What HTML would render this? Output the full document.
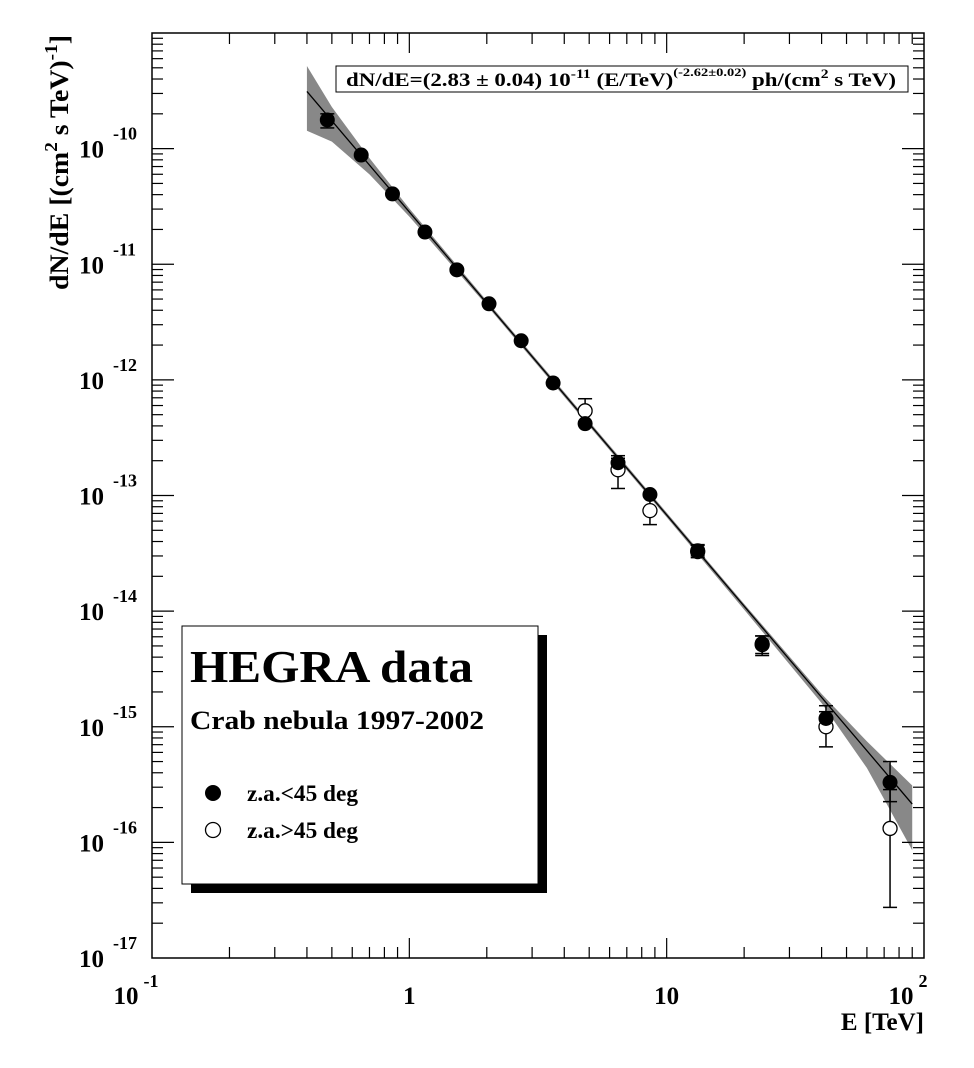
<!DOCTYPE html>
<html><head><meta charset="utf-8"><style>
html,body{margin:0;padding:0;background:#fff;}
svg{display:block;font-family:"Liberation Serif",serif;font-weight:bold;}
</style></head><body>
<svg id="chart" width="974" height="1068" viewBox="0 0 974 1068" xmlns="http://www.w3.org/2000/svg">
<g id="band"></g>
<g id="fit"></g>
<g id="pts"></g>
<g id="axes"></g>
<g>
<rect x="336" y="66" width="572" height="26" fill="#fff" stroke="#000" stroke-width="1"/>
<text x="346" y="86" font-size="19" textLength="550" lengthAdjust="spacingAndGlyphs">dN/dE=(2.83 ± 0.04) 10<tspan dy="-8" font-size="13">-11</tspan><tspan dy="8"> (E/TeV)</tspan><tspan dy="-10" font-size="12">(-2.62±0.02)</tspan><tspan dy="10"> ph/(cm</tspan><tspan dy="-8" font-size="13">2</tspan><tspan dy="8"> s TeV)</tspan></text>
</g>
<g>
<rect x="191" y="635" width="356" height="258" fill="#000"/>
<rect x="182" y="626" width="356" height="258" fill="#fff" stroke="#000" stroke-width="1"/>
<text x="190" y="682" font-size="46" textLength="283" lengthAdjust="spacingAndGlyphs">HEGRA data</text>
<text x="190" y="729" font-size="26" textLength="294" lengthAdjust="spacingAndGlyphs">Crab nebula 1997-2002</text>
<circle cx="213" cy="793" r="8" fill="#000"/>
<text x="247" y="801" font-size="23" textLength="111" lengthAdjust="spacingAndGlyphs">z.a.&lt;45 deg</text>
<circle cx="213" cy="830" r="7.5" fill="#fff" stroke="#000" stroke-width="1.3"/>
<text x="247" y="838" font-size="23" textLength="111" lengthAdjust="spacingAndGlyphs">z.a.&gt;45 deg</text>
</g>
<text x="924" y="1030" font-size="25" text-anchor="end">E [TeV]</text>
<text transform="translate(68,290) rotate(-90)" font-size="26" textLength="255" lengthAdjust="spacingAndGlyphs">dN/dE [(cm<tspan dy="-11" font-size="18">2</tspan><tspan dy="11"> s TeV)</tspan><tspan dy="-11" font-size="18">-1</tspan><tspan dy="11">]</tspan></text>
</svg>
<script>
const filledE=[0.48,0.65,0.86,1.15,1.53,2.04,2.72,3.62,4.82,6.47,8.61,13.2,23.5,41.6,73.8];
const filledF=[1.77e-10,8.8e-11,4.06e-11,1.9e-11,8.95e-12,4.55e-12,2.18e-12,9.4e-13,4.18e-13,1.92e-13,1.02e-13,3.33e-14,5.24e-15,1.18e-15,3.3e-16];
const filledHi=[2.0e-10,null,null,null,null,null,null,null,null,2.1e-13,null,3.7e-14,6.1e-15,1.52e-15,5.0e-16];
const filledLo=[1.51e-10,null,null,null,null,null,null,null,null,1.65e-13,null,3.0e-14,4.3e-15,9.8e-16,2.25e-16];
const openE=[4.82,6.47,8.61,13.2,23.5,41.6,73.8];
const openF=[5.4e-13,1.67e-13,7.4e-14,3.27e-14,5.13e-15,1.0e-15,1.32e-16];
const openHi=[6.87e-13,2.21e-13,9.77e-14,3.76e-14,6.1e-15,1.35e-15,2.86e-16];
const openLo=[4.09e-13,1.15e-13,5.6e-14,2.9e-14,4.13e-15,6.7e-16,2.74e-17];
const fitNorm=2.83e-11, fitIndex=-2.62, fitEmin=0.4, fitEmax=90;
const bandE=[0.4,0.5,0.7,1,2,5,10,20,40,60,90];
const bandUpDex=[0.22,0.12,0.06,0.03,0.02,0.02,0.02,0.02,0.03,0.08,0.16];
const bandDnDex=[0.34,0.18,0.08,0.04,0.02,0.02,0.02,0.03,0.05,0.15,0.4];
const xDecades=[-1,0,1,2], yDecades=[-17,-16,-15,-14,-13,-12,-11,-10];
const xTickLabels=["10|-1","1","10","10|2"];

const L=152,R=924,T=33,B=958;
const X=e=>L+(Math.log10(e)+1)/3*(R-L);
const Y=f=>T+(-9-Math.log10(f))/8*(B-T);
const NS="http://www.w3.org/2000/svg";
function mk(tag,attrs,parent){const el=document.createElementNS(NS,tag);for(const k in attrs)el.setAttribute(k,attrs[k]);parent.appendChild(el);return el;}
const fitF=e=>fitNorm*Math.pow(e,fitIndex);

let up=[],dn=[];
bandE.forEach((e,i)=>{up.push(X(e)+","+Y(fitF(e)*Math.pow(10,bandUpDex[i])));dn.unshift(X(e)+","+Y(fitF(e)/Math.pow(10,bandDnDex[i])));});
const poly=mk('polygon',{points:up.concat(dn).join(' '),fill:'#888'},document.getElementById('band'));


const fl=mk('line',{x1:X(fitEmin),y1:Y(fitF(fitEmin)),x2:X(fitEmax),y2:Y(fitF(fitEmax)),stroke:'#000','stroke-width':1.3},document.getElementById('fit'));



const pts=document.getElementById('pts');
function errbar(x,lo,hi){if(lo==null)return;
 const g=mk('g',{stroke:'#000','stroke-width':1.5},pts);
 
 
 mk('line',{x1:x,x2:x,y1:Y(hi),y2:Y(lo)},g);
 mk('line',{x1:x-7,x2:x+7,y1:Y(hi),y2:Y(hi)},g);
 mk('line',{x1:x-7,x2:x+7,y1:Y(lo),y2:Y(lo)},g);}
openE.forEach((e,i)=>errbar(X(e),openLo[i],openHi[i]));
filledE.forEach((e,i)=>errbar(X(e),filledLo[i],filledHi[i]));
openE.forEach((e,i)=>{const c=mk('circle',{cx:X(e),cy:Y(openF[i]),r:7,fill:'#fff',stroke:'#000','stroke-width':1.3},pts);
 
 });
filledE.forEach((e,i)=>{const c=mk('circle',{cx:X(e),cy:Y(filledF[i]),r:7.5,fill:'#000'},pts);
 
 });

const ax=document.getElementById('axes');
mk('rect',{x:L,y:T,width:R-L,height:B-T,fill:'none',stroke:'#000','stroke-width':1.5},ax);
const tg=mk('g',{stroke:'#000','stroke-width':1.2},ax);
for(let d=-1;d<2;d++)for(let m=1;m<10;m++){const x=X(m*Math.pow(10,d));const len=m==1?20:11;if(m==1&&d==-1)continue;
 mk('line',{x1:x,x2:x,y1:B,y2:B-len},tg);mk('line',{x1:x,x2:x,y1:T,y2:T+len},tg);}
for(let d=-17;d<-9;d++)for(let m=1;m<10;m++){const y=Y(m*Math.pow(10,d));const len=m==1?22:11;if(m==1&&d==-17)continue;
 mk('line',{x1:L,x2:L+len,y1:y,y2:y},tg);mk('line',{x1:R,x2:R-len,y1:y,y2:y},tg);}
xDecades.forEach((d,i)=>{const x=X(Math.pow(10,d));const parts=xTickLabels[i].split('|');
 const t=mk('text',{x:parts.length>1?x-16:x,y:1004,'font-size':25,'text-anchor':'middle'},ax);
 
 
 t.textContent=parts[0];
 if(parts.length>1){const s=mk('tspan',{dy:-17,'font-size':18,dx:5},t);s.textContent=parts[1];}});
yDecades.forEach(d=>{const y=Y(Math.pow(10,d));
 const t=mk('text',{x:79,y:y+9,'font-size':25},ax);
 
 
 t.textContent='10';
 const s=mk('tspan',{dy:-18,dx:9,'font-size':18},t);s.textContent=String(d);});
</script>
</body></html>
